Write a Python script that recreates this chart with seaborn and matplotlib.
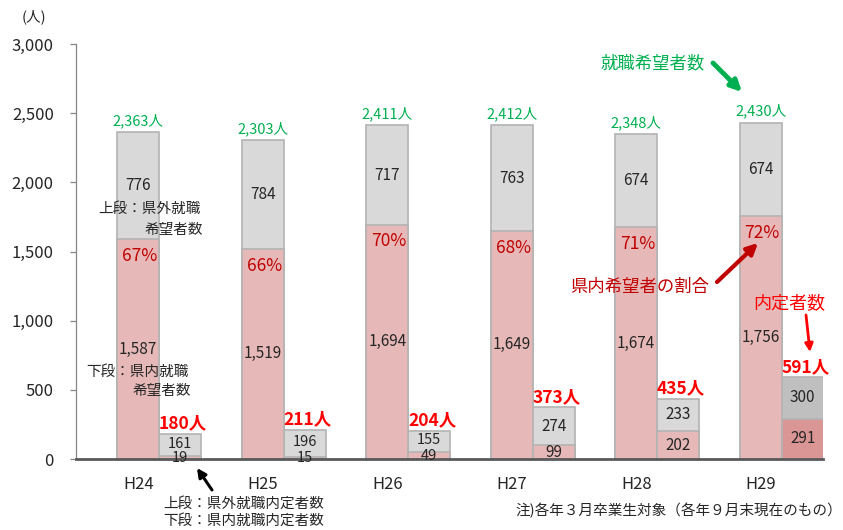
import matplotlib
matplotlib.use("Agg")
import matplotlib.pyplot as plt
import seaborn as sns
import pandas as pd

# data
years = ["H24", "H25", "H26", "H27", "H28", "H29"]
hope_in = [1587, 1519, 1694, 1649, 1674, 1756]     # 県内就職希望者数
hope_out = [776, 784, 717, 763, 674, 674]          # 県外就職希望者数
hope_total = [2363, 2303, 2411, 2412, 2348, 2430]
hope_pct = [67, 66, 70, 68, 71, 72]
offer_in = [19, 15, 49, 99, 202, 291]              # 県内就職内定者数
offer_out = [161, 196, 155, 274, 233, 300]         # 県外就職内定者数
offer_total = [180, 211, 204, 373, 435, 591]

GRAY = "#d9d9d9"
GRAY_DARK = "#bfbfbf"
PINK = "#e6b9b8"
PINK_DARK = "#da9694"
EDGE = "#b3b3b3"
GREEN = "#00b050"
DARKRED = "#c00000"
RED = "#ff0000"

rows = []
for i, y in enumerate(years):
    rows.append({"year": y, "kind": "hope", "total": hope_total[i], "inner": hope_in[i]})
    rows.append({"year": y, "kind": "offer", "total": offer_total[i], "inner": offer_in[i]})
df = pd.DataFrame(rows)

sns.set_style("white")
plt.rcParams["font.family"] = ["Noto Sans CJK JP", "DejaVu Sans"]

W, H = 843, 530
fig = plt.figure(figsize=(W / 100, H / 100), dpi=100)
ax = fig.add_axes([76 / W, 1 - 459 / H, (823 - 76) / W, (459 - 44) / H])

common = dict(x="year", hue="kind", hue_order=["hope", "offer"], width=0.675,
              dodge=True, errorbar=None, edgecolor=EDGE, linewidth=1.2,
              saturation=1, legend=False, ax=ax)
sns.barplot(data=df, y="total", palette={"hope": GRAY, "offer": GRAY}, **common)
sns.barplot(data=df, y="inner", palette={"hope": PINK, "offer": PINK}, **common)

# H29 placement bar uses darker shades
ax.containers[1][-1].set_facecolor(GRAY_DARK)
ax.containers[3][-1].set_facecolor(PINK_DARK)

hope_x = [p.get_x() + p.get_width() / 2 for p in ax.containers[0]]
offer_x = [p.get_x() + p.get_width() / 2 for p in ax.containers[1]]

for i in range(len(years)):
    cx = hope_x[i]
    ax.text(cx, hope_in[i] / 2, f"{hope_in[i]:,}", ha="center", va="center", fontsize=11)
    ax.text(cx, hope_in[i] + hope_out[i] / 2, f"{hope_out[i]:,}", ha="center", va="center", fontsize=11)
    ax.annotate(f"{hope_total[i]:,}人", (cx, hope_total[i]), xytext=(0, 3),
                textcoords="offset points", ha="center", va="bottom", fontsize=10.5, color=GREEN)
    ax.annotate(f"{hope_pct[i]}%", (cx, hope_in[i]), xytext=(1, -12),
                textcoords="offset points", ha="center", va="center", fontsize=12.5, color=DARKRED)

    ox = offer_x[i]
    small = offer_in[i] < 60
    ax.text(ox, offer_in[i] / 2, f"{offer_in[i]}", ha="center", va="center",
            fontsize=10.5 if small else 11)
    ax.text(ox, offer_in[i] + offer_out[i] / 2 + (12 if small else 0), f"{offer_out[i]}",
            ha="center", va="center", fontsize=10.5 if small else 11)
    ax.annotate(f"{offer_total[i]}人", (ox, offer_total[i]), xytext=(2, 1),
                textcoords="offset points", ha="center", va="bottom", fontsize=12.5,
                fontweight="bold", color=RED)

ax.set_ylim(0, 3000)
ax.set_yticks(range(0, 3001, 500))
ax.set_yticklabels([f"{v:,}" for v in range(0, 3001, 500)])
ax.set_xticks(hope_x)
ax.set_xticklabels(years)
ax.set_xlim(hope_x[0] - 0.5, hope_x[-1] + 0.5)
ax.set_xlabel("")
ax.set_ylabel("")

for s in ["top", "right"]:
    ax.spines[s].set_visible(False)
ax.spines["left"].set_color("#868686")
ax.spines["left"].set_linewidth(0.9)
ax.spines["bottom"].set_color("#595959")
ax.spines["bottom"].set_linewidth(2)
ax.tick_params(axis="y", length=4, width=0.9, color="#868686", labelsize=12, pad=12, left=True)
ax.tick_params(axis="x", length=0, labelsize=12, pad=12)


def px(x, y):
    return (x / W, 1 - y / H)


# unit label
fig.text(*px(34, 17), "(人)", ha="center", va="center", fontsize=10.5)

# side notes on the H24 bar
fig.text(*px(201, 209), "上段：県外就職", ha="right", va="center", fontsize=10.5)
fig.text(*px(203, 230), "希望者数", ha="right", va="center", fontsize=10.5)
fig.text(*px(189, 372), "下段：県内就職", ha="right", va="center", fontsize=10.5)
fig.text(*px(191, 391), "希望者数", ha="right", va="center", fontsize=10.5)

fig.text(*px(163, 504), "上段：県外就職内定者数", ha="left", va="center", fontsize=10.5)
fig.text(*px(163, 521), "下段：県内就職内定者数", ha="left", va="center", fontsize=10.5)
fig.text(*px(842, 510), "注)各年３月卒業生対象（各年９月末現在のもの）", ha="right", va="center", fontsize=10.5)

fig.text(*px(653, 63), "就職希望者数", ha="center", va="center", fontsize=12.5, color=GREEN)
fig.text(*px(640, 287), "県内希望者の割合", ha="center", va="center", fontsize=12.5, color=DARKRED)
fig.text(*px(789, 303), "内定者数", ha="center", va="center", fontsize=13, color=RED)


def arrow(start, end, color, lw, scale):
    ax.annotate("", xy=px(*end), xytext=px(*start), xycoords="figure fraction",
                textcoords="figure fraction", annotation_clip=False,
                arrowprops=dict(arrowstyle="-|>", color=color, lw=lw,
                                mutation_scale=scale, shrinkA=0, shrinkB=0))


arrow((713, 63), (742, 92), GREEN, 3.5, 16)
arrow((717, 282), (758, 243), DARKRED, 3, 16)
arrow((806, 315), (810, 352), RED, 2, 12)
arrow((212, 490), (197, 468), "black", 2.2, 13)

fig.savefig("out.png", dpi=100)
